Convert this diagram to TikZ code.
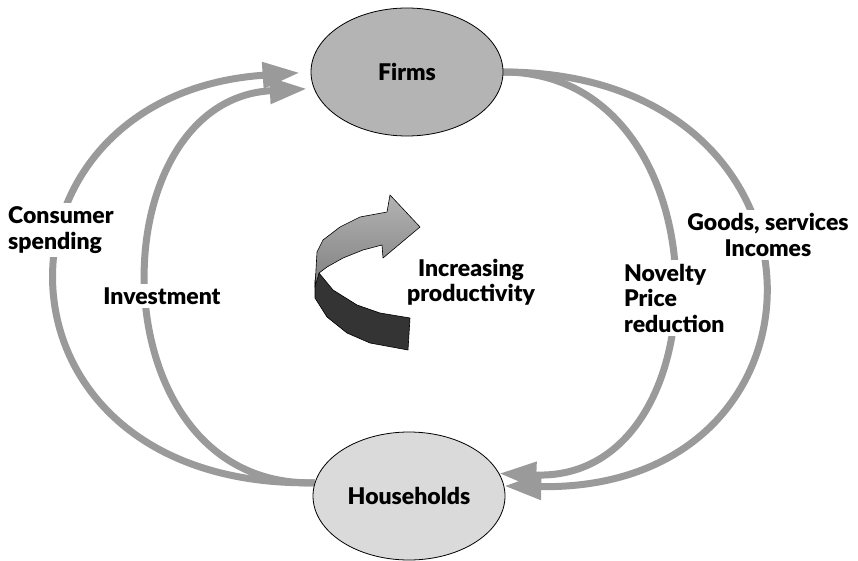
\documentclass[tikz,border=0pt]{standalone}
\usepackage{fontspec}
\setmainfont{Lato}[BoldFont={Lato Black}]
\usetikzlibrary{arrows.meta,shapes.geometric,backgrounds}

\definecolor{flowgray}{RGB}{154,154,154}
\definecolor{firmgray}{RGB}{180,180,180}
\definecolor{hhgray}{RGB}{218,218,218}
\definecolor{ribbonlight}{RGB}{160,160,160}
\definecolor{ribbondark}{RGB}{52,52,52}

\begin{document}
\begin{tikzpicture}[x=1pt, y=-1pt, line join=round,
	>={Triangle[length=37pt,width=25pt]},
	sector/.style={ellipse, draw, line width=0.8pt, minimum width=192pt, minimum height=128pt, font=\bfseries\fontsize{23}{25.5}\selectfont},
	flow/.style={draw=flowgray, line width=7pt, ->},
	flowlabel/.style={fill=white, inner sep=4pt, font=\bfseries\fontsize{23}{25.5}\selectfont}]
	\useasboundingbox (0,0) rectangle (858,561);
	% the two sectors
	\node[sector, fill=firmgray] (firms) at (407,72) {Firms};
	\node[sector, fill=hhgray] (house) at (409,496) {Households};
	% the flows between them
	\begin{scope}[on background layer]
		\draw[flow, shorten >=11pt] (house.172) .. controls (-26,489) and (-26,95) .. (firms.west);
		\draw[flow, shorten >=7pt] (house.172) .. controls (95,489) and (95,100) .. (firms.190);
		\draw[flow] (firms.east) .. controls (728,72) and (728,483) .. (house.14);
		\draw[flow] (firms.east) .. controls (849,72) and (849,492) .. (house.6);
	\end{scope}
	% labels
	\node[flowlabel, anchor=west, align=left] (spend) at (4,230) {Consumer\\spending};
	\node[flowlabel] (invest) at (162,296) {Investment};
	\node[flowlabel, anchor=west, align=left] (novel) at (620,298) {Novelty\\Price\\reduction};
	\node[flowlabel, align=center] (goods) at (768,235) {Goods, services\\Incomes};
	\node[flowlabel, align=center] (prod) at (471,282) {Increasing\\productivity};
	% the turning arrow
	\draw[line width=0.6pt, fill=ribbondark] (319,273) -- (333,290) -- (357,305) -- (380,313) -- (410,318)
		-- (408,350) -- (370,343) -- (347,333) -- (327,317) -- (315,298) -- (315,280) -- cycle;
	\draw[line width=0.6pt, top color=ribbonlight!80, bottom color=ribbonlight!80!black] (315,287) -- (317,252) -- (323,240) -- (340,227) -- (360,217) -- (387,212)
		-- (390,195) -- (420,227) -- (383,258) -- (382,245) -- (363,250) -- (343,258) -- (327,267) -- (319,273) -- cycle;
\end{tikzpicture}
\end{document}
